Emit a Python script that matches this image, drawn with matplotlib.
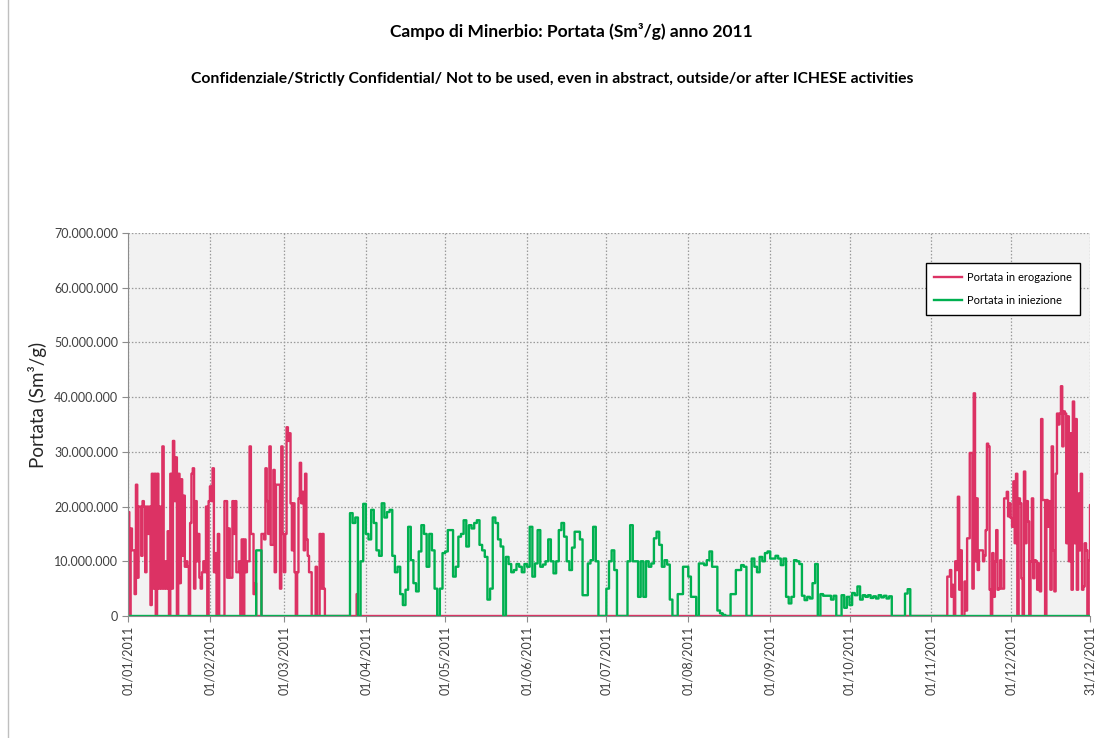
import numpy as np
import pandas as pd
import matplotlib
matplotlib.use('Agg')
import matplotlib.pyplot as plt

plt.rcParams['font.family'] = ['Lato', 'DejaVu Sans']

# --- data (milioni di Sm3/g) ---
# erogazione: two values per day (00-12, 12-24), from 01/01
erog_jan_mar = [
    19, 0, 16, 12, 12, 4, 24, 7, 20, 20,          # days 0-4
    11, 21, 20, 8, 20, 15, 20, 2, 26, 5,          # 5-9
    26, 0, 26, 5, 20, 5, 31, 5, 10, 5,            # 10-14
    15.5, 0, 26, 5, 32, 21, 29, 0, 26, 6,         # 15-19
    25, 11, 22, 9, 10, 9, 0, 17, 26, 27,          # 20-24
    5, 21, 10, 15, 7, 5, 8, 10, 8, 20,            # 25-29
    0, 21, 23.7, 21, 27, 8, 11.5, 0, 15, 0,       # 30-34
    0, 0, 0, 21, 21, 7, 16, 7, 7, 21,             # 35-39
    15, 21, 8, 8, 10, 0, 14, 0, 14, 8,            # 40-44
    10, 10, 31, 15, 15, 4, 6, 0, 0, 0,            # 45-49
    0, 15, 15, 14, 27, 21, 15, 31, 13, 13,        # 50-54
    26.7, 8, 24, 24, 24, 5, 31, 15, 8, 15,        # 55-59
    34.5, 32, 33.4, 20.6, 12, 20.6, 8, 0, 8, 21.5,  # 60-64
    28, 20.6, 22.7, 12, 26, 14, 11, 8, 8, 0,      # 65-69
    0, 0, 9, 0, 0, 15, 5, 15, 5, 0,               # 70-74
    0, 0, 0, 0, 0, 0, 0, 0, 0, 0,                 # 75-79
    0, 0, 0, 0, 0, 0, 0, 0, 0, 0,                 # 80-84
    0, 0, 0, 4, 0, 0,                             # 85-87
]
erog_nov_dec_start = 310
erog_nov_dec = [
    7.2, 7.2, 8.4, 3.5, 5.7, 0, 10, 8.4, 21.8, 4.8,     # 310-314
    12, 0, 0, 6.3, 1, 14.2, 14.2, 29.8, 29.8, 5,        # 315-319
    40.7, 10, 21.5, 8.4, 12, 12, 12, 10, 11, 15.7,      # 320-324
    31.5, 31, 4.8, 0, 11.5, 3.5, 10, 15.7, 4.8, 5,      # 325-329
    10.2, 5, 5, 21.5, 21.5, 22.7, 18.2, 20.6, 17.9, 16.3,  # 330-334
    24.6, 13.3, 26, 0, 21.5, 20.6, 6.9, 0, 26.4, 13.3,  # 335-339
    21, 17.3, 0, 10, 21.5, 6.9, 10.2, 10, 4.8, 9.6,     # 340-344
    4.5, 36, 21.2, 21.2, 0, 21.2, 16.3, 21, 4.8, 31,    # 345-349
    12, 4.5, 26, 37, 35, 37, 42, 31, 37.4, 37,          # 350-354
    13.3, 36.5, 10, 33.4, 4.8, 39.2, 13.3, 36, 4.8, 22.4,  # 355-359
    12, 26, 4.8, 5.4, 13.3, 12, 0, 10.2, 20.3, 10,      # 360-364
]

# iniezione: one value per day
inj_feb_start = 48.5
inj_feb = [12, 12]
inj_start = 84
inj_values = [
    18.8, 17, 18, 0, 10, 20.5, 15, 14, 19.4, 17,        # 84-93
    12, 11, 20.6, 18, 19, 19.4, 11, 8, 9, 4,            # 94-103
    2, 4.8, 16.3, 10.2, 6, 4.5, 11.8, 16.6, 15, 9,      # 104-113
    15, 12, 5, 0, 5, 11.5, 11.8, 15.7, 15.7, 7.2,       # 114-123
    9, 14.5, 15, 17.5, 12.7, 16.6, 16, 17, 17.5, 13,    # 124-133
    12, 10.8, 3, 5, 18, 17, 14, 12.7, 0, 10.8,          # 134-143
    9.5, 8, 8.4, 9.5, 9, 8, 9.5, 9, 16.3, 7.2,          # 144-153
    9.6, 15.7, 9, 9.4, 10, 14, 10, 7.8, 10, 15.7,       # 154-163
    17, 14.5, 10, 8.4, 12.5, 15.4, 15.4, 14, 3.8, 3.8,  # 164-173
    9.6, 10.2, 16.3, 10, 0, 0, 0, 5, 10, 12,            # 174-183
    8.4, 0, 0, 0, 0, 10, 16.6, 10, 10, 3.5,             # 184-193
    10, 3.5, 10, 9, 9.6, 14.2, 15.4, 13, 9, 10.2,       # 194-203
    9.4, 3, 0, 0, 4, 4, 9, 9, 7.2, 3.5,                 # 204-213
    3.5, 0, 9.6, 9.6, 9.3, 10.2, 11.8, 9, 9, 1,         # 214-223
    0.5, 0.2, 0, 0, 4, 4, 8.4, 8.4, 9.3, 9,             # 224-233
    0, 0, 10.5, 9, 8, 10.8, 10, 11.5, 11.8, 10.5,       # 234-243
    10.5, 11, 10.5, 9.3, 10.5, 3.5, 2.3, 3.5, 10.2, 10, # 244-253
    9.5, 3.7, 2.9, 3.5, 3.2, 6, 9.5, 0, 4, 3.7,         # 254-263
    3.7, 3.7, 3, 3.7, 0, 0, 3.8, 1.5, 3.5, 2,           # 264-273
    4.2, 3.8, 5.4, 3, 3.8, 3.5, 3.8, 3.3, 3.6, 3.2,     # 274-283
    3.8, 3.4, 3.7, 3.2, 3.6, 0, 0, 0, 0, 0,             # 284-293
    4.1, 4.9,                                           # 294-295
]

year_start = pd.Timestamp('2011-01-01')
tick_dates = list(pd.date_range('2011-01-01', '2011-12-01', freq='MS')) + [pd.Timestamp('2011-12-31')]

# half-day grid for the whole year
step = 0.5
t = np.arange(0, 365 + step, step)
erog = np.zeros(len(t))
inj = np.zeros(len(t))

i0 = 0
erog[i0:i0 + len(erog_jan_mar)] = erog_jan_mar
i0 = int(erog_nov_dec_start / step)
erog[i0:i0 + len(erog_nov_dec)] = erog_nov_dec
i0 = int(inj_feb_start / step)
inj[i0:i0 + 2 * len(inj_feb)] = np.repeat(inj_feb, 2)
i0 = int(inj_start / step)
inj[i0:i0 + 2 * len(inj_values)] = np.repeat(inj_values, 2)
erog *= 1e6
inj *= 1e6

# --- plot ---
W, H = 1120, 738
fig = plt.figure(figsize=(W / 100, H / 100), dpi=100)
fig.patch.set_facecolor('white')
ax = fig.add_axes([128 / W, 1 - 616 / H, 962 / W, 383 / H])
ax.set_facecolor('#F2F2F2')

ax.plot(t, erog, drawstyle='steps-post', color='#DC3264', lw=1.7, label='Portata in erogazione')
ax.plot(t, inj, drawstyle='steps-post', color='#00B050', lw=1.7, label='Portata in iniezione')

ax.set_xlim(0, 364)
ax.set_ylim(0, 70e6)
ax.set_yticks(np.arange(0, 70e6 + 1, 10e6))
ax.set_yticklabels(['{:,.0f}'.format(v).replace(',', '.') for v in ax.get_yticks()],
                   fontsize=9, color='#404040')
xt = [(d - year_start).days for d in tick_dates]
ax.set_xticks(xt)
ax.set_xticklabels([d.strftime('%d/%m/%Y') for d in tick_dates], rotation=90,
                   fontsize=9, color='#404040')

ax.grid(True, color='#9A9A9A', linestyle=(0, (1.2, 1.5)), lw=0.9)
ax.set_axisbelow(True)
for s in ['top', 'right']:
    ax.spines[s].set_visible(False)
for s in ['left', 'bottom']:
    ax.spines[s].set_color('#8C8C8C')
ax.tick_params(axis='both', direction='out', length=4, color='#8C8C8C', pad=3)

ax.set_ylabel('Portata (Sm³/g)', fontsize=13.5, color='#262626')
ax.yaxis.set_label_coords(-0.084, 0.55)

leg = ax.legend(loc='upper right', bbox_to_anchor=(0.99, 0.922), borderaxespad=0,
                fontsize=8, fancybox=False, edgecolor='black', framealpha=1,
                handlelength=2.5, handletextpad=0.4, labelspacing=1.1, borderpad=0.8)
leg.get_frame().set_linewidth(1.0)

fig.text(0.51, 1 - 32 / H, 'Campo di Minerbio: Portata (Sm³/g) anno 2011',
         ha='center', va='center', fontsize=12.5, fontweight='bold', color='black')
fig.text(0.493, 1 - 79 / H,
         'Confidenziale/Strictly Confidential/ Not to be used, even in abstract, outside/or after ICHESE activities',
         ha='center', va='center', fontsize=11.3, fontweight='bold', color='black')

# chart area border (left edge visible in the screenshot)
fig.add_artist(plt.Line2D([8 / W, 8 / W], [0, 1], transform=fig.transFigure, color='#BFBFBF', lw=1))

fig.savefig('out.png', dpi=100)
